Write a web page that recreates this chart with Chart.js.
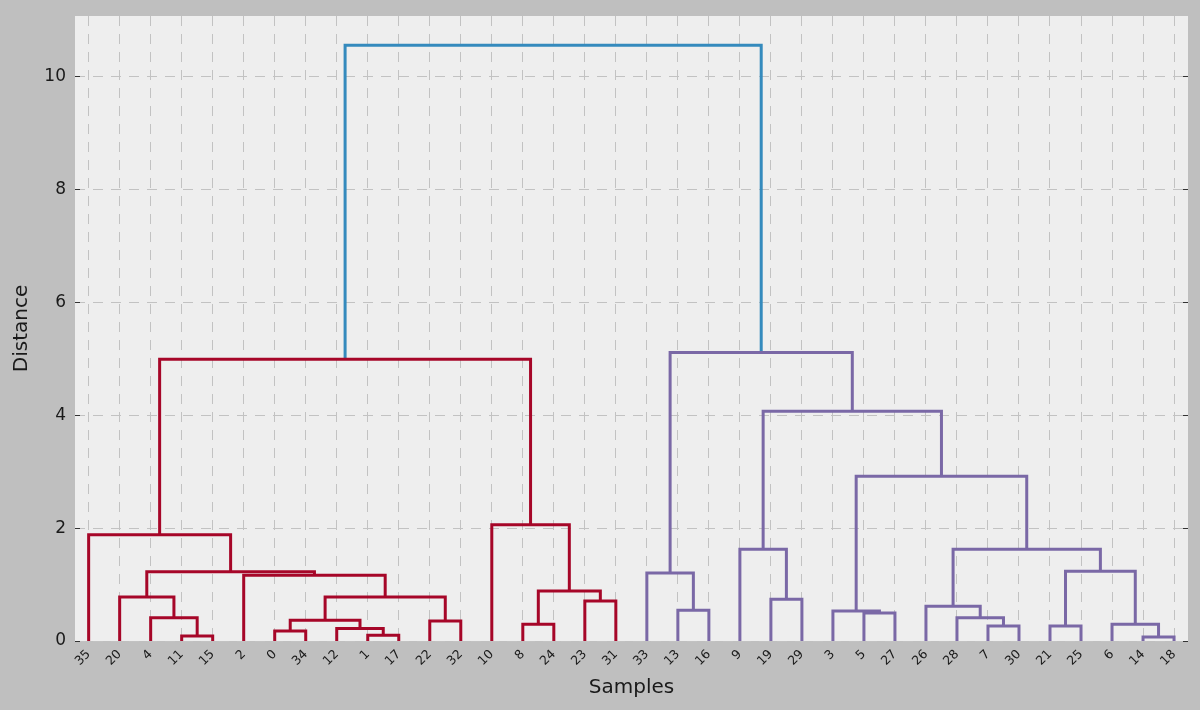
<!DOCTYPE html>
<html>
<head>
<meta charset="utf-8">
<title>Dendrogram</title>
<script src="https://cdn.jsdelivr.net/npm/chart.js@4.4.1/dist/chart.umd.min.js"></script>
<style>
  html, body { margin: 0; padding: 0; background: #bfbfbf; }
  #wrap { width: 1200px; height: 710px; }
</style>
</head>
<body>
<div id="wrap"><canvas id="chart" width="1200" height="710"></canvas></div>
<script>
// Sample ids in the order the leaves appear along the x axis
const leafOrder = [35, 20, 4, 11, 15, 2, 0, 34, 12, 1, 17, 22, 32, 10, 8, 24, 23, 31,
                   33, 13, 16, 9, 19, 29, 3, 5, 27, 26, 28, 7, 30, 21, 25, 6, 14, 18];

// Linkage: merge k joins mergeLeft[k] and mergeRight[k] into node 36 + k at mergeHeight[k]
const mergeLeft   = [14, 11, 1, 0, 12, 7, 21, 8, 6, 22, 39, 4, 28, 5, 3, 13, 26, 23,
                     19, 20, 46, 43, 2, 33, 55, 42, 9, 52, 35, 10, 50, 62, 64, 59, 68];
const mergeRight  = [18, 15, 17, 34, 38, 30, 25, 24, 36, 32, 40, 37, 41, 27, 49, 16, 48, 31,
                     29, 47, 45, 53, 56, 51, 58, 44, 54, 61, 60, 57, 63, 66, 65, 67, 69];
const mergeHeight = [0.071, 0.089, 0.10, 0.177, 0.22, 0.266, 0.266, 0.296, 0.296, 0.354, 0.367, 0.414,
                     0.414, 0.496, 0.531, 0.544, 0.614, 0.708, 0.738, 0.78, 0.78, 0.885, 1.163, 1.204,
                     1.225, 1.234, 1.624, 1.624, 1.88, 2.06, 2.92, 4.07, 4.99, 5.11, 10.55];

// Distance axis ticks
const yTicks = [0, 2, 4, 6, 8, 10];

// Colours: clusters below the threshold, links above it
const clusterColors = ['#A60628', '#7A68A6'];
const aboveThresholdColor = '#348ABD';

const nLeaves = leafOrder.length;

// Leaf i sits at 5 + 10 i; an internal node sits midway between its children
const xPos = {}, yPos = {};
leafOrder.forEach((id, i) => { xPos[id] = 5 + 10 * i; yPos[id] = 0; });
mergeLeft.forEach((a, k) => {
  const b = mergeRight[k], id = nLeaves + k;
  xPos[id] = (xPos[a] + xPos[b]) / 2;
  yPos[id] = mergeHeight[k];
});

// Colour clusters the way a cut at 70% of the tallest merge does
const threshold = 0.7 * Math.max(...mergeHeight);
const linkColor = [];
let nextCluster = 0;
function paintSubtree(id, color) {
  if (id < nLeaves) return;
  const k = id - nLeaves;
  linkColor[k] = color;
  paintSubtree(mergeLeft[k], color);
  paintSubtree(mergeRight[k], color);
}
function walk(id) {
  if (id < nLeaves) return;
  const k = id - nLeaves;
  const kids = [mergeLeft[k], mergeRight[k]].sort((p, q) => xPos[p] - xPos[q]);
  if (mergeHeight[k] >= threshold) {
    linkColor[k] = aboveThresholdColor;
    kids.forEach(walk);
  } else {
    paintSubtree(id, clusterColors[nextCluster++ % clusterColors.length]);
  }
}
walk(nLeaves + mergeLeft.length - 1);

// One U-shaped link per merge
const datasets = mergeLeft.map((a, k) => {
  const b = mergeRight[k], h = mergeHeight[k];
  return {
    data: [
      { x: xPos[a], y: yPos[a] },
      { x: xPos[a], y: h },
      { x: xPos[b], y: h },
      { x: xPos[b], y: yPos[b] }
    ],
    showLine: true,
    borderColor: linkColor[k],
    borderWidth: 3,
    pointRadius: 0,
    tension: 0,
    fill: false,
    borderJoinStyle: 'miter'
  };
});

const backgroundPlugin = {
  id: 'panelBackground',
  beforeDraw(chart) {
    const { ctx, chartArea: a } = chart;
    ctx.save();
    ctx.fillStyle = '#bfbfbf';
    ctx.fillRect(0, 0, chart.width, chart.height);
    ctx.fillStyle = '#eeeeee';
    ctx.fillRect(a.left, a.top, a.right - a.left, a.bottom - a.top);
    ctx.restore();
  }
};

// Short inward tick marks on both sides of the distance axis
const innerTicksPlugin = {
  id: 'innerTicks',
  afterDatasetsDraw(chart) {
    const { ctx, chartArea: a } = chart;
    const ys = chart.scales.y;
    ctx.save();
    ctx.strokeStyle = '#333333';
    ctx.lineWidth = 1;
    ctx.beginPath();
    yTicks.forEach(v => {
      const p = Math.round(ys.getPixelForValue(v)) + 0.5;
      ctx.moveTo(a.left, p); ctx.lineTo(a.left + 5, p);
      ctx.moveTo(a.right - 5, p); ctx.lineTo(a.right, p);
    });
    ctx.stroke();
    ctx.restore();
  }
};

const gridStyle = { color: '#c2c2c2', lineWidth: 1, drawTicks: false };
const gridBorder = { display: false, dash: [10, 8] };

new Chart(document.getElementById('chart'), {
  type: 'scatter',
  data: { datasets },
  options: {
    responsive: false,
    animation: false,
    layout: { padding: { top: 16, right: 12, left: 0, bottom: 0 } },
    plugins: { legend: { display: false }, tooltip: { enabled: false } },
    scales: {
      x: {
        type: 'linear',
        min: 0.6,
        max: 359.5,
        afterBuildTicks(scale) { scale.ticks = leafOrder.map((id, i) => ({ value: 5 + 10 * i })); },
        afterFit(scale) { scale.height = 69; scale.paddingLeft = 0; scale.paddingRight = 0; },
        ticks: {
          autoSkip: false,
          minRotation: 45,
          maxRotation: 45,
          padding: 6,
          color: '#1a1a1a',
          font: { family: 'DejaVu Sans', size: 12.5 },
          callback: (v) => String(leafOrder[Math.round((v - 5) / 10)])
        },
        grid: gridStyle,
        border: gridBorder,
        title: {
          display: true,
          text: 'Samples',
          color: '#1a1a1a',
          font: { family: 'DejaVu Sans', size: 20 },
          padding: { top: 0, bottom: 10 }
        }
      },
      y: {
        type: 'linear',
        min: 0,
        max: 11.07,
        afterBuildTicks(scale) { scale.ticks = yTicks.map(v => ({ value: v })); },
        afterFit(scale) { scale.width = 75; scale.paddingTop = 0; scale.paddingBottom = 0; },
        ticks: {
          padding: 9,
          color: '#1a1a1a',
          font: { family: 'DejaVu Sans', size: 17 },
          callback: (v) => String(v)
        },
        grid: gridStyle,
        border: gridBorder,
        title: {
          display: true,
          text: 'Distance',
          color: '#1a1a1a',
          font: { family: 'DejaVu Sans', size: 20 },
          padding: { top: 10, bottom: 0 }
        }
      }
    }
  },
  plugins: [backgroundPlugin, innerTicksPlugin]
});
</script>
</body>
</html>
